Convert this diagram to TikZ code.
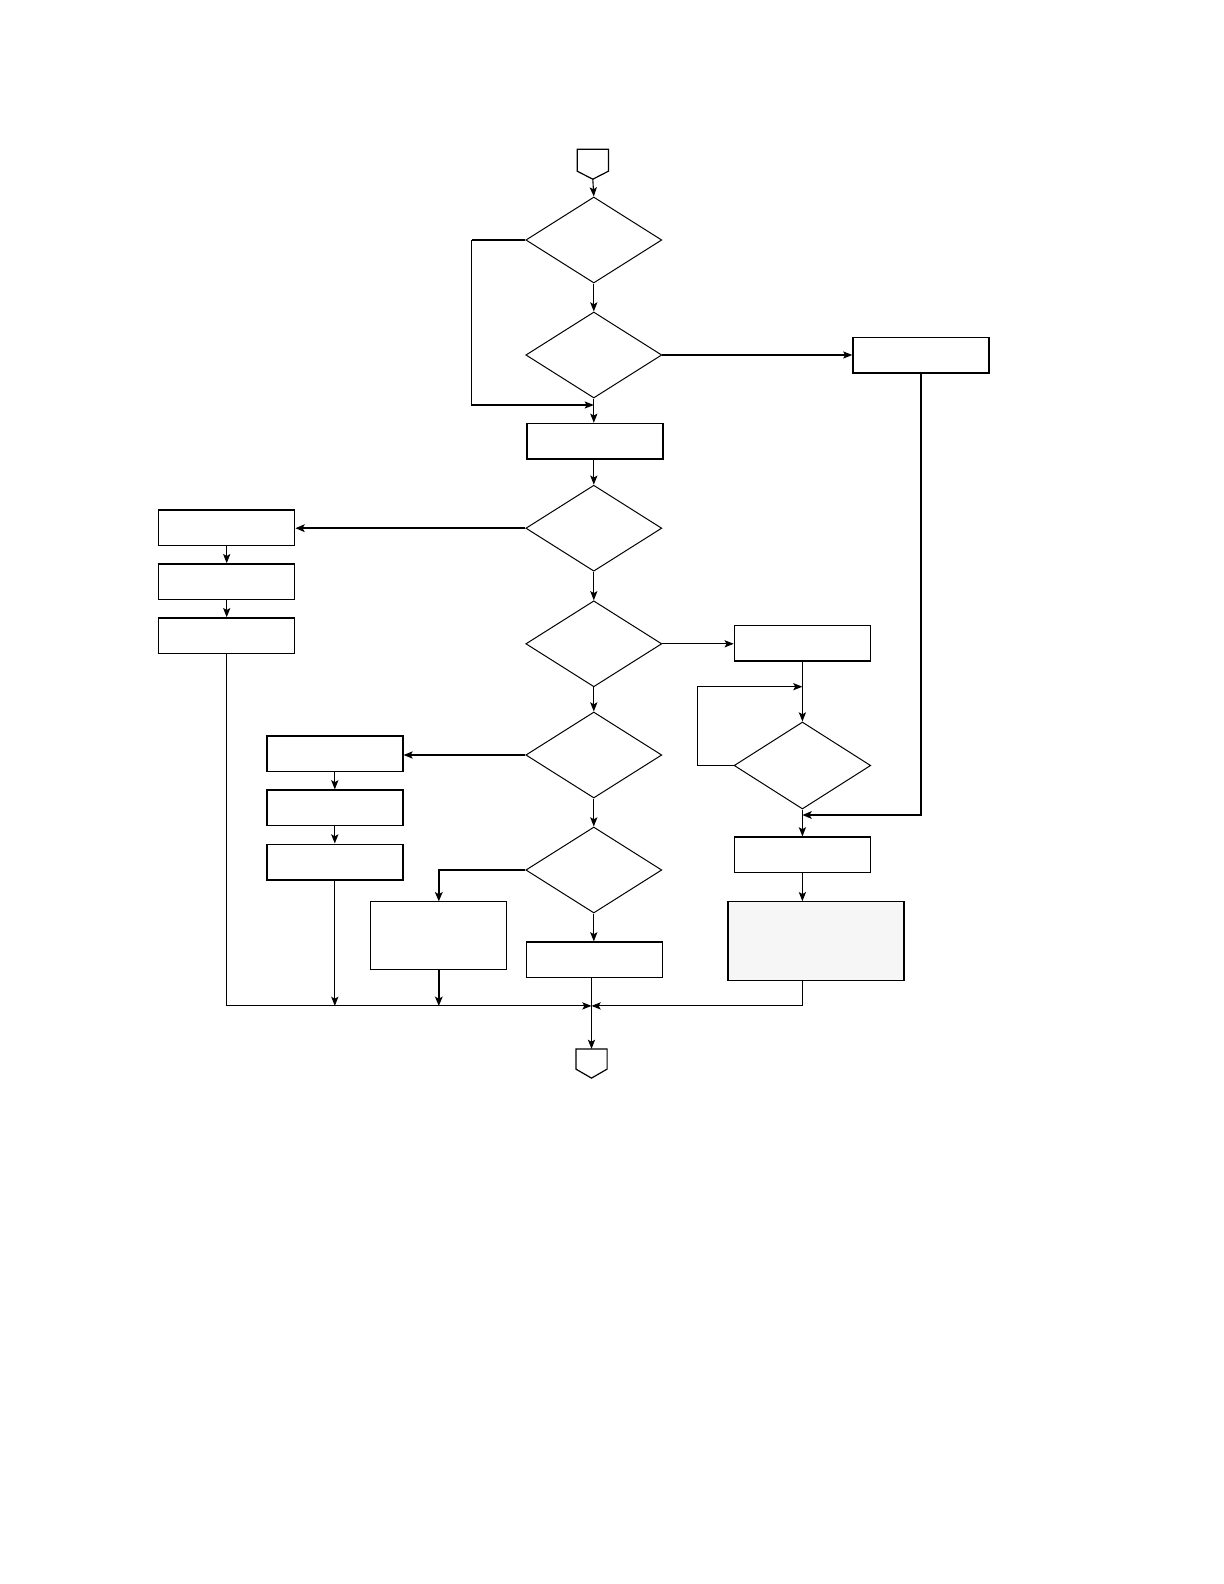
\documentclass[tikz,border=0pt]{standalone}
\usetikzlibrary{shapes.geometric,arrows.meta,calc}
\begin{document}
\begin{tikzpicture}[x=0.5pt,y=-0.5pt,
  boxnode/.style={draw,rectangle,line width=0.7pt,inner sep=0pt,minimum width=68pt,minimum height=17.8pt},
  decnode/.style={draw,diamond,line width=0.5pt,inner sep=0pt,minimum width=68pt,minimum height=43pt,shape aspect=1.58},
  conn/.style={inner sep=0pt,minimum width=15.2pt,minimum height=14.6pt},
  flow/.style={line width=0.55pt,-{Stealth[length=4.6pt,width=3.6pt,inset=1pt]}},
  flowthick/.style={line width=1pt,-{Stealth[length=4.6pt,width=3.8pt,inset=1pt]}},
  plain/.style={line width=0.55pt},
  plainthick/.style={line width=1pt}]
\useasboundingbox (0,0) rectangle (1224,1584);
% nodes
\node[conn] (start) at (592.8,164.2) {};
\draw[line width=0.6pt] (start.north west) -- (start.north east) -- ($(start.south east)+(0,4pt)$) -- (start.south) -- ($(start.south west)+(0,4pt)$) -- cycle;
\node[decnode] (d1) at (593.8,240) {};
\node[decnode] (d2) at (593.8,355) {};
\node[boxnode] (boxA) at (594.8,441.3) {};
\node[decnode] (d3) at (593.8,528.2) {};
\node[decnode] (d4) at (593.8,643.8) {};
\node[decnode] (d6) at (593.8,755) {};
\node[decnode] (d7) at (593.8,870) {};
\node[boxnode] (rb1) at (921,355) {};
\node[boxnode] (L1) at (226.7,527.6) {};
\node[boxnode] (L2) at (226.7,581.7) {};
\node[boxnode] (L3) at (226.7,635.7) {};
\node[boxnode] (R2) at (802.4,643.3) {};
\node[decnode,minimum width=68.3pt,minimum height=43.5pt] (d5) at (802.4,765.5) {};
\node[boxnode] (R3) at (802.4,854.9) {};
\node[boxnode,line width=0.55pt,fill={rgb,255:red,246;green,246;blue,246},minimum width=88pt,minimum height=39.4pt] (R4) at (816,941.2) {};
\node[boxnode] (M1) at (334.8,753.9) {};
\node[boxnode] (M2) at (334.8,807.9) {};
\node[boxnode] (M3) at (334.8,862) {};
\node[boxnode,line width=0.55pt,minimum height=33.8pt] (boxB) at (438.8,935.7) {};
\node[boxnode] (boxC) at (594.2,959.9) {};
\node[conn,minimum height=14.2pt] (end) at (591.5,1063.5) {};
\draw[line width=0.6pt] (end.north west) -- (end.north east) -- ($(end.south east)+(0,4.5pt)$) -- (end.south) -- ($(end.south west)+(0,4.5pt)$) -- cycle;
% junction coordinates
\coordinate (j1) at (593.8,405);
\coordinate (j4) at (802.4,686.7);
\coordinate (j5) at (802.4,815);
\coordinate (jm) at (591.5,1005.9);
% connectors
\draw[flow] (start.south) -- (d1.north);
\draw[flow] (d1.south) -- (d2.north);
\draw[plainthick] (d1.west) -- (471.6,240);
\draw[flow] (471.6,240) |- (j1);
\draw[flow] (d2.south) -- (d2.south |- boxA.north);
\draw[flow] (d2.east) -- (rb1.west);
\draw[flowthick] (rb1.south) |- (j5);
\draw[flow] (boxA.south -| d3.north) -- (d3.north);
\draw[flowthick] (d3.west) -- (d3.west -| L1.east);
\draw[flow] (L1.south) -- (L2.north);
\draw[flow] (L2.south) -- (L3.north);
\draw[flow] (L3.south) |- (jm);
\draw[flow] (d3.south) -- (d4.north);
\draw[flow] (d4.east) -- (d4.east -| R2.west);
\draw[flow] (R2.south) -- (d5.north);
\draw[flow] (d5.west) -| (697.8,686.7) -- (j4);
\draw[flow] (d5.south) -- (R3.north);
\draw[flow] (R3.south) -- (R3.south |- R4.north);
\draw[flow] (R3.south |- R4.south) |- (jm);
\draw[flow] (d4.south) -- (d6.north);
\draw[flow] (d6.west) -- (d6.west -| M1.east);
\draw[flow] (M1.south) -- (M2.north);
\draw[flow] (M2.south) -- (M3.north);
\draw[flow] (M3.south) -- (M3.south |- jm);
\draw[flow] (d6.south) -- (d7.north);
\draw[flowthick] (d7.west) -| (boxB.north);
\draw[flowthick] (boxB.south) -- (boxB.south |- jm);
\draw[flow] (d7.south) -- (d7.south |- boxC.north);
\draw[flow] (boxC.south -| jm) -- (end.north);
\end{tikzpicture}
\end{document}
